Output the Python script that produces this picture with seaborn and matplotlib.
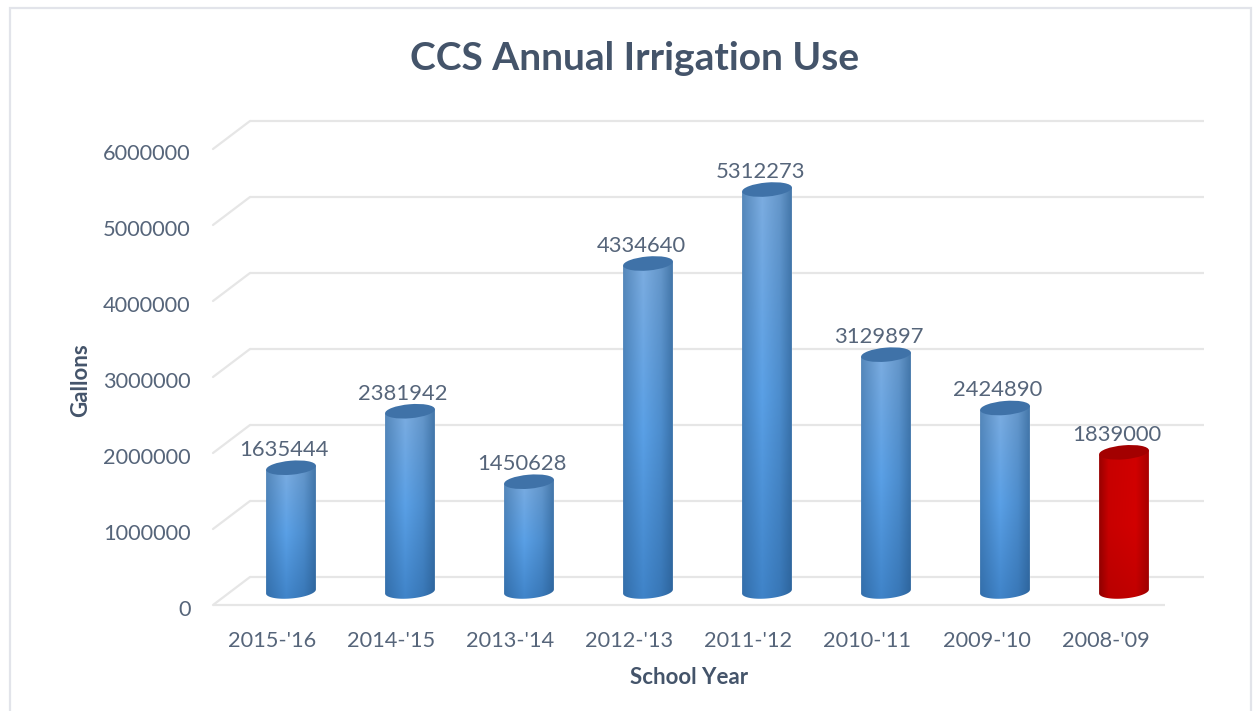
import numpy as np
import pandas as pd
import matplotlib
matplotlib.use("Agg")
import matplotlib.pyplot as plt
import seaborn as sns
from matplotlib.patches import Ellipse, PathPatch, Rectangle
from matplotlib.path import Path
from matplotlib.lines import Line2D
from matplotlib.transforms import IdentityTransform, ScaledTranslation

# chart values
years = ["2015-'16", "2014-'15", "2013-'14", "2012-'13", "2011-'12", "2010-'11", "2009-'10", "2008-'09"]
gallons = [1635444, 2381942, 1450628, 4334640, 5312273, 3129897, 2424890, 1839000]
bar_colors = ["#4f8fd0"] * 7 + ["#c00000"]
y_ticks = [0, 1000000, 2000000, 3000000, 4000000, 5000000, 6000000]

W, H = 1256, 711
TEXT = "#56657a"
TITLE = "#44546a"
GRID = "#e6e6e6"

sns.set_theme(style="white")
plt.rcParams["font.family"] = ["Lato", "DejaVu Sans"]

fig = plt.figure(figsize=(W / 100, H / 100), dpi=100, facecolor="white")


def box(left, right, bottom_px, top_px):
    return [left / W, 1 - bottom_px / H, (right - left) / W, (bottom_px - top_px) / H]


# the fake 3d box: back wall, front edge, and the plane the bars stand on
back = fig.add_axes(box(250, 1204, 577, 121), facecolor="none")
front = fig.add_axes(box(213, 1165, 605, 149), facecolor="none")
ax = fig.add_axes(box(231.5, 1183.5, 591.5 + 15.1, 137.5), facecolor="none")

for a in (back, front):
    a.set_xlim(-0.5, 7.5)
    a.set_ylim(0, 6000000)
    sns.despine(ax=a, left=True, bottom=True, top=True, right=True)

back.hlines(y_ticks, -0.5, 7.5, color=GRID, lw=1.6, clip_on=False)
back.set_xticks([])
back.set_yticks([])

front.hlines([0], -0.5, 7.5, color=GRID, lw=1.6, clip_on=False)
front.set_xticks(range(len(years)), years)
front.set_yticks(y_ticks, [str(v) for v in y_ticks])
front.tick_params(axis="x", length=0, pad=19, labelsize=15.7, labelcolor=TEXT)
front.tick_params(axis="y", length=0, pad=16, labelsize=15.7, labelcolor=TEXT)
front.set_xlabel("School Year", fontsize=16, fontweight="bold", color=TITLE, labelpad=11)
fig.text(81 / W, 1 - 380 / H, "Gallons", rotation=90, ha="center", va="center",
         fontsize=16, fontweight="bold", color=TITLE)

# y labels sit a little lower than the gridline ends
nudge = ScaledTranslation(0, -3 / 100, fig.dpi_scale_trans)
for lab in front.get_yticklabels():
    lab.set_transform(lab.get_transform() + nudge)

df = pd.DataFrame({"year": years, "gallons": gallons})
sns.barplot(data=df, x="year", y="gallons", hue="year", order=years, hue_order=years,
            palette=bar_colors, legend=False, width=0.41, ax=ax)
ax.set_xlim(-0.5, 7.5)
ax.set_ylim(-200000, 6000000)
ax.axis("off")

# diagonal floor/side lines from front edge to back wall
for v in y_ticks:
    p0 = front.transData.transform((-0.5, v))
    p1 = back.transData.transform((-0.5, v))
    fig.add_artist(Line2D([p0[0], p1[0]], [p0[1], p1[1]], transform=IdentityTransform(),
                          color=GRID, lw=1.6))


def hex_rgb(c):
    return np.array(matplotlib.colors.to_rgb(c))


def shade(edge_stops, mid_stops, prof_x, prof_y):
    # dark edges, highlight a bit left of centre
    rows = np.linspace(0, 1, 60)
    cols = np.linspace(0, 1, 60)
    prof = np.interp(cols, prof_x, prof_y)
    img = np.zeros((60, 60, 3))
    for i, r in enumerate(rows):
        e = np.array([np.interp(r, [0, 0.5, 1], [hex_rgb(c)[k] for c in edge_stops]) for k in range(3)])
        m = np.array([np.interp(r, [0, 0.5, 1], [hex_rgb(c)[k] for c in mid_stops]) for k in range(3)])
        img[i] = e + prof[:, None] * (m - e)
    return img


blue_img = shade(["#2a5f95", "#33699f", "#3a6d9f"], ["#3f83c8", "#5aa0e6", "#7dade0"],
                 [0, 0.1, 0.42, 0.72, 0.92, 1], [0, 0.45, 1, 0.65, 0.15, 0])
red_img = shade(["#8a0000", "#900000", "#950000"], ["#c00000", "#d20000", "#d00000"],
                [0, 0.08, 0.24, 0.7, 0.9, 1], [0, 0.08, 0.85, 1, 0.4, 0])

A, B, TILT = 25, 7, 5
c, s = np.cos(np.radians(TILT)), np.sin(np.radians(TILT))
t = np.linspace(np.pi, 2 * np.pi, 40)

for i, val in enumerate(gallons):
    cx, y0 = ax.transData.transform((i, 0))
    _, y1 = ax.transData.transform((i, val))
    ex = A * np.cos(t) * c - B * np.sin(t) * s
    ey = A * np.cos(t) * s + B * np.sin(t) * c
    # body = bottom half of lower ellipse, closed through the top ellipse centre line
    pts = np.column_stack([cx + ex, y0 + ey])
    pts = np.vstack([pts, [cx + ex[-1], y1 + ey[-1]], [cx + ex[0], y1 + ey[0]], pts[0]])
    body = PathPatch(Path(pts), transform=IdentityTransform(), facecolor="none", edgecolor="none")
    ax.add_patch(body)
    red = i == len(years) - 1
    im = ax.imshow(red_img if red else blue_img, origin="lower", aspect="auto",
                   interpolation="bilinear", extent=[i - 0.25, i + 0.25, -150000, val + 60000], zorder=3)
    im.set_clip_path(body)
    ax.add_patch(Ellipse((cx, y1), 2 * A, 2 * B, angle=TILT, transform=IdentityTransform(),
                         facecolor="#a30000" if red else "#3f72a8", edgecolor="none", zorder=4))
    ax.annotate(str(val), (i, val), xytext=(-5, 5.5), textcoords="offset points", ha="center",
                va="bottom", fontsize=15.8, color=TEXT, zorder=5)

ax.set_xlim(-0.5, 7.5)
ax.set_ylim(-200000, 6000000)

fig.text(635 / W, 1 - 59 / H, "CCS Annual Irrigation Use", ha="center", va="center",
         fontsize=28, fontweight="bold", color=TITLE)

# chart frame
fig.add_artist(Rectangle((10 / W, -0.02), 1241 / W, 1 - 8 / H + 0.02, transform=fig.transFigure,
                         facecolor="none", edgecolor="#e2e4ea", lw=1.6))

fig.savefig("out.png", dpi=100)
